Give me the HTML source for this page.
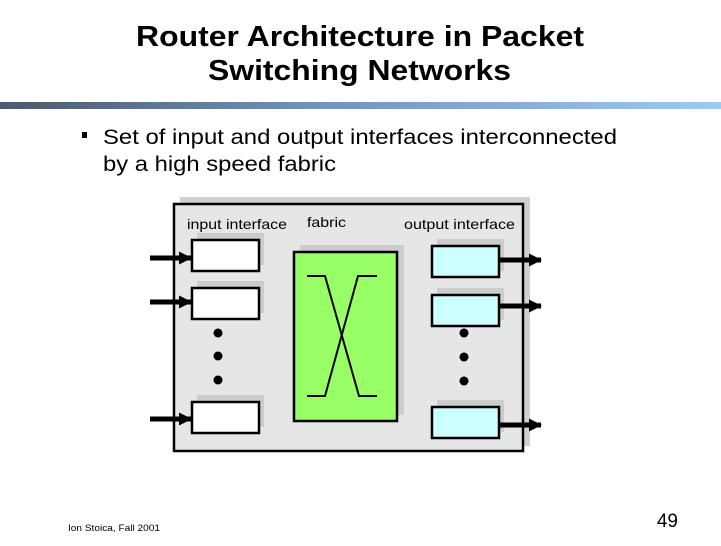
<!DOCTYPE html>
<html><head><meta charset="utf-8"><style>
html,body{margin:0;padding:0;background:#fff;}
body{width:721px;height:541px;overflow:hidden;font-family:"Liberation Sans",sans-serif;}
</style></head><body>
<svg width="721" height="541" viewBox="0 0 721 541" xmlns="http://www.w3.org/2000/svg" font-family="Liberation Sans, sans-serif">
<defs>
<linearGradient id="g" x1="0" x2="1" y1="0" y2="0">
<stop offset="0" stop-color="#4a5a6e"/><stop offset="0.45" stop-color="#6f95c0"/><stop offset="1" stop-color="#9ccbf5"/>
</linearGradient>
<marker id="ah" markerWidth="13" markerHeight="13" refX="12" refY="6.5" orient="auto" markerUnits="userSpaceOnUse">
<path d="M0,0 L13,6.5 L0,13 z" fill="#000"/></marker>
</defs>
<text x="136" y="46" font-size="29" font-weight="bold" textLength="448" lengthAdjust="spacingAndGlyphs">Router Architecture in Packet</text>
<text x="208" y="80" font-size="29" font-weight="bold" textLength="303" lengthAdjust="spacingAndGlyphs">Switching Networks</text>
<rect x="0" y="102" width="721" height="7" fill="url(#g)"/>
<rect x="82" y="132" width="5" height="6" fill="#000"/>
<text x="103" y="144" font-size="21" textLength="514" lengthAdjust="spacingAndGlyphs">Set of input and output interfaces interconnected</text>
<text x="103" y="171" font-size="21" textLength="233" lengthAdjust="spacingAndGlyphs">by a high speed fabric</text>

<rect x="180" y="197" width="350" height="249" fill="#d0d0d0"/>
<rect x="174" y="204" width="349" height="247" fill="#e6e6e6" stroke="#000" stroke-width="2.5"/>
<text x="187" y="229" font-size="14" textLength="100" lengthAdjust="spacingAndGlyphs">input interface</text>
<text x="307" y="227" font-size="14" textLength="39" lengthAdjust="spacingAndGlyphs">fabric</text>
<text x="404" y="229" font-size="14" textLength="111" lengthAdjust="spacingAndGlyphs">output interface</text>

<g fill="#cccccc">
<rect x="197" y="233" width="67" height="32"/>
<rect x="197" y="281" width="67" height="32"/>
<rect x="197" y="395" width="67" height="32"/>
<rect x="300" y="245" width="104" height="170"/>
<rect x="437" y="239" width="67" height="32"/>
<rect x="437" y="288" width="67" height="32"/>
<rect x="437" y="400" width="67" height="32"/>
</g>
<g stroke="#000" stroke-width="2.5">
<rect x="192" y="240" width="67" height="31" fill="#fff"/>
<rect x="192" y="288" width="67" height="31" fill="#fff"/>
<rect x="192" y="402" width="67" height="31" fill="#fff"/>
<rect x="294" y="252" width="103" height="169" fill="#99ff66"/>
<rect x="432" y="246" width="67" height="31" fill="#ccffff"/>
<rect x="432" y="295" width="67" height="31" fill="#ccffff"/>
<rect x="432" y="407" width="67" height="31" fill="#ccffff"/>
</g>
<g stroke="#000" stroke-width="2" fill="none">
<polyline points="307,276 325,276 359,396 377,396"/>
<polyline points="377,276 358,276 325,396 307,396"/>
</g>
<g stroke="#000" stroke-width="5" marker-end="url(#ah)">
<line x1="150" y1="258" x2="191" y2="258"/>
<line x1="150" y1="302" x2="191" y2="302"/>
<line x1="150" y1="419" x2="191" y2="419"/>
<line x1="500" y1="260" x2="541" y2="260"/>
<line x1="500" y1="306" x2="541" y2="306"/>
<line x1="500" y1="425" x2="541" y2="425"/>
</g>
<g fill="#000">
<circle cx="218" cy="333" r="4.5"/><circle cx="218" cy="356" r="4.5"/><circle cx="218" cy="380" r="4.5"/>
<circle cx="464" cy="333" r="4.5"/><circle cx="464" cy="357" r="4.5"/><circle cx="464" cy="381" r="4.5"/>
</g>
<text x="68" y="531" font-size="9" textLength="92" lengthAdjust="spacingAndGlyphs">Ion Stoica, Fall 2001</text>
<text x="678" y="527" font-size="19" text-anchor="end">49</text>
</svg>
</body></html>
